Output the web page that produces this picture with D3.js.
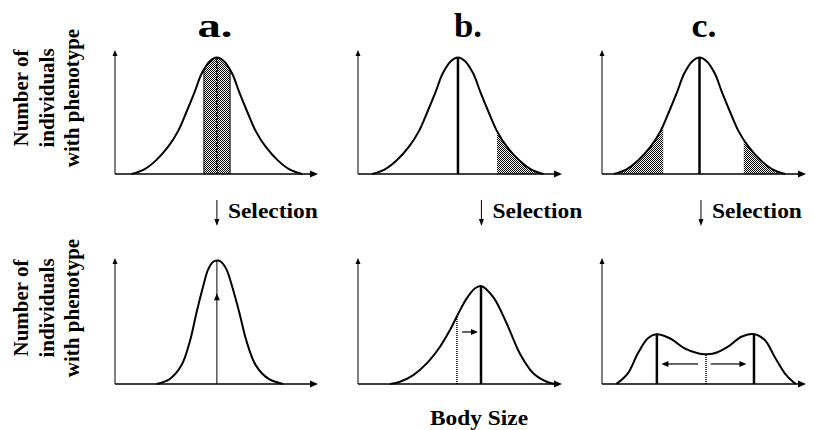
<!DOCTYPE html>
<html>
<head>
<meta charset="utf-8">
<script src="https://cdn.jsdelivr.net/npm/d3@7"></script>
<style>
  body { margin: 0; background: #fff; }
  text { font-family: "Liberation Serif", "Times New Roman", serif; font-weight: bold; fill: #000; }
</style>
</head>
<body>
<div id="chart"></div>
<script>
// panel titles
var panelTitles = ["a.", "b.", "c."];

// top row: starting population, one bell shape placed around each panel's mean
var startOffsets = [-42, -36, -30, -24, -19, -15, -11, -7.5, -3.5, 0, 3.5, 7.5, 11, 15, 19, 24, 30, 36, 42];
var startCounts  = [0, 3.5, 11, 22, 35, 50, 66, 81, 91, 94, 91, 81, 66, 50, 35, 22, 11, 3.5, 0];
var startMeans   = [50.2, 49, 47.8];

// shaded (selected) body size ranges per panel
var selectedRanges = [[[43.8, 56.7]], [[68.1, 100]], [[0, 30], [69.5, 100]]];

// bottom row: population after selection
var stabSize   = [20.5, 27, 32.8, 36.9, 40.2, 43.5, 45.9, 48.4, 50.2, 52.2, 54.9, 57.6, 61.2, 64.8, 69.3, 75.7, 82.9];
var stabCounts = [0, 4, 15, 34, 57, 78, 91, 97, 98, 97, 91, 78, 57, 34, 15, 4, 0];

var dirSize   = [15.7, 20.6, 27.1, 33.7, 40.2, 45.1, 49.2, 53.3, 57.4, 60.3, 66.3, 72.9, 79.4, 85.9, 92.5, 96.6];
var dirCounts = [0, 1.8, 7.1, 16.4, 29.6, 42.9, 56, 68, 76, 77.8, 69, 48, 24, 8.5, 1.8, 0];

var disSize   = [7, 12.7, 17.6, 22.5, 26.6, 33.2, 40.5, 47, 50.3, 55.2, 61.8, 68.3, 74, 79.8, 84.6, 89.6, 93.6, 95.2];
var disCounts = [0, 8.5, 24.4, 36.3, 39.4, 36.3, 28.3, 24.4, 23.6, 24.4, 29.6, 37.5, 39.7, 34.9, 21.6, 8.5, 1.8, 0];

// where the "Selection" arrow sits on each panel (body size units)
var selectionAt = [50.2, 60.5, 48.5];

var svg = d3.select("#chart").append("svg")
  .attr("width", 814)
  .attr("height", 430)
  .style("display", "block");

var defs = svg.append("defs");
var pat = defs.append("pattern")
  .attr("id", "dots")
  .attr("width", 2).attr("height", 2)
  .attr("patternUnits", "userSpaceOnUse");
pat.append("rect").attr("width", 2).attr("height", 2).attr("fill", "#fff");
pat.append("rect").attr("x", 0).attr("y", 0).attr("width", 1).attr("height", 1).attr("fill", "#000");
pat.append("rect").attr("x", 1).attr("y", 1).attr("width", 1).attr("height", 1).attr("fill", "#000");

// panel layout in pixels
var colLeft = [115, 358, 602];
var colRight = [318, 562, 806];
var rowBase = [174, 384];
var rowTop = [50, 258];

var smooth = d3.curveCatmullRom.alpha(0.5);

function toPoints(sizes, counts) {
  return sizes.map(function (s, k) { return { s: s, n: counts[k] }; });
}

function countAt(points, s) {
  for (var k = 1; k < points.length; k++) {
    if (points[k].s >= s) {
      var a = points[k - 1], b = points[k];
      return a.n + (b.n - a.n) * (s - a.s) / (b.s - a.s);
    }
  }
  return 0;
}

function head(g, x, y, dir, len, half) {
  var p;
  if (dir == "up") p = [[x, y], [x - half, y + len], [x + half, y + len]];
  if (dir == "down") p = [[x, y], [x - half, y - len], [x + half, y - len]];
  if (dir == "left") p = [[x, y], [x + len, y - half], [x + len, y + half]];
  if (dir == "right") p = [[x, y], [x - len, y - half], [x - len, y + half]];
  g.append("path").attr("d", "M" + p.join("L") + "Z").attr("fill", "#000");
}

function drawAxes(g, x, y) {
  g.append("line")
    .attr("x1", x(0)).attr("x2", x(0))
    .attr("y1", y(0)).attr("y2", y(100) + 5)
    .attr("stroke", "#000").attr("stroke-width", 1);
  head(g, x(0), y(100), "up", 6, 2.5);
  g.append("line")
    .attr("x1", x(0)).attr("x2", x(100) - 7)
    .attr("y1", y(0)).attr("y2", y(0))
    .attr("stroke", "#000").attr("stroke-width", 1.5);
  head(g, x(100), y(0), "right", 8, 3.5);
}

function vline(g, x, y, s, n, width, dash) {
  var l = g.append("line")
    .attr("x1", x(s)).attr("x2", x(s))
    .attr("y1", y(0)).attr("y2", y(n))
    .attr("stroke", "#000").attr("stroke-width", width);
  if (dash) l.attr("stroke-dasharray", dash);
}

function harrow(g, x, y, s0, s1, n) {
  var dir = s1 > s0 ? "right" : "left";
  var off = s1 > s0 ? -6 : 6;
  g.append("line")
    .attr("x1", x(s0)).attr("x2", x(s1) + off)
    .attr("y1", y(n)).attr("y2", y(n))
    .attr("stroke", "#000").attr("stroke-width", 1.2);
  head(g, x(s1), y(n), dir, 7, 3);
}

var bottomCurves = [
  toPoints(stabSize, stabCounts),
  toPoints(dirSize, dirCounts),
  toPoints(disSize, disCounts)
];

for (var i = 0; i < 3; i++) {
  var x = d3.scaleLinear().domain([0, 100]).range([colLeft[i], colRight[i]]);
  var yTop = d3.scaleLinear().domain([0, 100]).range([rowBase[0], rowTop[0]]);
  var yBot = d3.scaleLinear().domain([0, 100]).range([rowBase[1], rowTop[1]]);

  var line = d3.line().x(d => x(d.s)).curve(smooth);

  // ---- top row
  var gt = svg.append("g");
  var mean = startMeans[i];
  var pts = startOffsets.map(function (o, k) { return { s: mean + o, n: startCounts[k] }; });

  var area = d3.area().x(d => x(d.s)).y0(yTop(0)).y1(d => yTop(d.n)).curve(smooth);
  selectedRanges[i].forEach(function (r, j) {
    var id = "clip" + i + "_" + j;
    defs.append("clipPath").attr("id", id)
      .append("rect")
      .attr("x", x(r[0])).attr("width", x(r[1]) - x(r[0]))
      .attr("y", yTop(100)).attr("height", yTop(0) - yTop(100));
    gt.append("path")
      .datum(pts)
      .attr("clip-path", "url(#" + id + ")")
      .attr("fill", "url(#dots)")
      .attr("d", area);
  });

  if (i == 0) {
    // narrow selected band with outlined edges and dotted mean
    selectedRanges[0][0].forEach(function (s) {
      vline(gt, x, yTop, s, countAt(pts, s), 1);
    });
    vline(gt, x, yTop, mean, 94, 1.5, "2,1");
  } else {
    vline(gt, x, yTop, mean, 94, 2.5);
  }

  gt.append("path")
    .datum(pts)
    .attr("fill", "none")
    .attr("stroke", "#000")
    .attr("stroke-width", 2)
    .attr("d", line.y(d => yTop(d.n)));

  drawAxes(gt, x, yTop);

  gt.append("text")
    .attr("x", [215, 468, 704][i])
    .attr("y", 37)
    .attr("text-anchor", "middle")
    .attr("font-size", "34px")
    .attr("textLength", [35, 28, 25][i])
    .attr("lengthAdjust", "spacingAndGlyphs")
    .text(panelTitles[i]);

  // ---- selection arrow
  var sx = x(selectionAt[i]);
  svg.append("line")
    .attr("x1", sx).attr("x2", sx)
    .attr("y1", 200).attr("y2", 220)
    .attr("stroke", "#000").attr("stroke-width", 1);
  head(svg, sx, 226, "down", 7, 2.5);
  svg.append("text")
    .attr("x", sx + 11)
    .attr("y", 218)
    .attr("font-size", "20px")
    .attr("textLength", 90)
    .attr("lengthAdjust", "spacingAndGlyphs")
    .text("Selection");

  // ---- bottom row
  var gb = svg.append("g");
  var bp = bottomCurves[i];

  if (i == 0) {
    vline(gb, x, yBot, 50.2, 98, 1);
    head(gb, x(50.2), yBot(72), "up", 7, 3);
  }
  if (i == 1) {
    vline(gb, x, yBot, 48.5, countAt(bp, 48.5), 1.5, "1,1");
    vline(gb, x, yBot, 60.3, 77.8, 2.5);
    harrow(gb, x, yBot, 51, 58.8, 41.3);
  }
  if (i == 2) {
    vline(gb, x, yBot, 51, 23.6, 1.5, "1,1");
    vline(gb, x, yBot, 26.9, 39.4, 2.5);
    vline(gb, x, yBot, 74.5, 39.7, 2.5);
    harrow(gb, x, yBot, 47.1, 29.1, 15.9);
    harrow(gb, x, yBot, 53.3, 70.8, 15.9);
  }

  gb.append("path")
    .datum(bp)
    .attr("fill", "none")
    .attr("stroke", "#000")
    .attr("stroke-width", 2)
    .attr("d", line.y(d => yBot(d.n)));

  drawAxes(gb, x, yBot);
}

// y axis labels, rotated
[98, 308].forEach(function (cy) {
  var t = svg.append("text")
    .attr("transform", "translate(0," + cy + ") rotate(-90)")
    .attr("text-anchor", "middle")
    .attr("font-size", "21px");
  ["Number of", "individuals", "with phenotype"].forEach(function (s, k) {
    t.append("tspan").attr("x", 0).attr("y", [28, 54, 79][k]).text(s);
  });
});

svg.append("text")
  .attr("x", 479)
  .attr("y", 425)
  .attr("text-anchor", "middle")
  .attr("font-size", "21px")
  .attr("textLength", 98)
  .attr("lengthAdjust", "spacingAndGlyphs")
  .text("Body Size");
</script>
</body>
</html>
